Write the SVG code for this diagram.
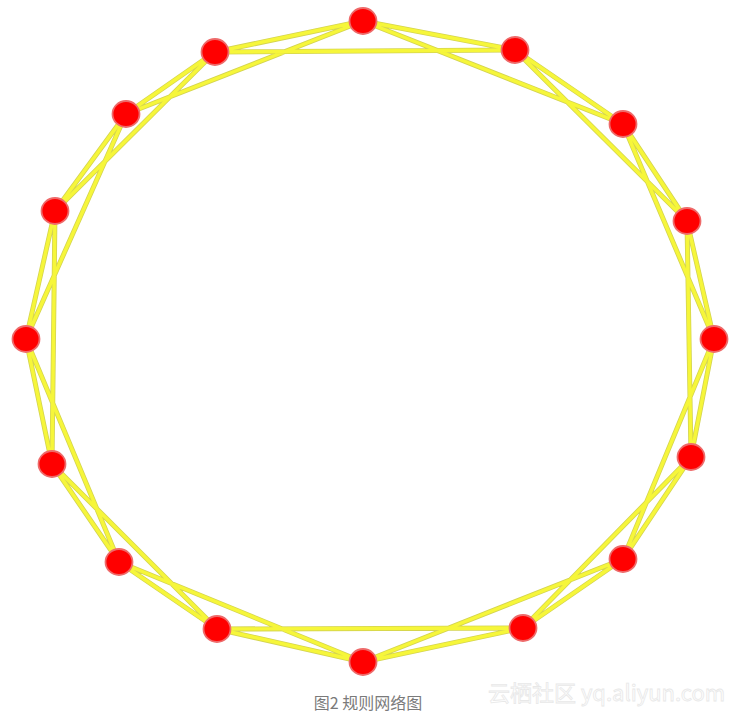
<svg xmlns="http://www.w3.org/2000/svg" xmlns:xlink="http://www.w3.org/1999/xlink" width="740" height="717" viewBox="0 0 740 717">
<style>
.edge-under{fill:none;stroke:#d4d450;stroke-width:5;stroke-linecap:round}
.edge-top{fill:none;stroke:#f6f63a;stroke-width:3.4;stroke-linecap:round}
.node{fill:#ff0000;stroke:#ee6a6a;stroke-width:1.8}
.caption{font-family:"Noto Sans CJK SC","Liberation Sans",sans-serif;font-size:16px;fill:#7a7a7a}
.wm{font-family:"Noto Sans CJK SC","Liberation Sans",sans-serif;font-size:22px;fill:#ffffff;stroke:#e8e8e8;stroke-width:0.8}
</style>
<defs>
<path id="edges" d="M363 21L515 50M515 50L623 124M623 124L687 221M687 221L714 339M714 339L691 457M691 457L623 559M623 559L523 628M523 628L363 662M363 662L217 629M217 629L119 562M119 562L52 464M52 464L26 339M26 339L55 211M55 211L126 114M126 114L215 52M215 52L363 21M363 21L623 124M515 50L687 221M623 124L714 339M687 221L691 457M714 339L623 559M691 457L523 628M623 559L363 662M523 628L217 629M363 662L119 562M217 629L52 464M119 562L26 339M52 464L55 211M26 339L126 114M55 211L215 52M126 114L363 21M215 52L515 50"/>
</defs>
<rect width="740" height="717" fill="#ffffff"/>
<g id="connectors">
<use xlink:href="#edges" href="#edges" class="edge-under"/>
<use xlink:href="#edges" href="#edges" class="edge-top"/>
</g>
<g id="n0"><ellipse class="node" cx="363" cy="21" rx="13.5" ry="13"/></g>
<g id="n1"><ellipse class="node" cx="515" cy="50" rx="13.5" ry="13"/></g>
<g id="n2"><ellipse class="node" cx="623" cy="124" rx="13.5" ry="13"/></g>
<g id="n3"><ellipse class="node" cx="687" cy="221" rx="13.5" ry="13"/></g>
<g id="n4"><ellipse class="node" cx="714" cy="339" rx="13.5" ry="13"/></g>
<g id="n5"><ellipse class="node" cx="691" cy="457" rx="13.5" ry="13"/></g>
<g id="n6"><ellipse class="node" cx="623" cy="559" rx="13.5" ry="13"/></g>
<g id="n7"><ellipse class="node" cx="523" cy="628" rx="13.5" ry="13"/></g>
<g id="n8"><ellipse class="node" cx="363" cy="662" rx="13.5" ry="13"/></g>
<g id="n9"><ellipse class="node" cx="217" cy="629" rx="13.5" ry="13"/></g>
<g id="n10"><ellipse class="node" cx="119" cy="562" rx="13.5" ry="13"/></g>
<g id="n11"><ellipse class="node" cx="52" cy="464" rx="13.5" ry="13"/></g>
<g id="n12"><ellipse class="node" cx="26" cy="339" rx="13.5" ry="13"/></g>
<g id="n13"><ellipse class="node" cx="55" cy="211" rx="13.5" ry="13"/></g>
<g id="n14"><ellipse class="node" cx="126" cy="114" rx="13.5" ry="13"/></g>
<g id="n15"><ellipse class="node" cx="215" cy="52" rx="13.5" ry="13"/></g>
<text class="caption" x="368" y="709" text-anchor="middle">图2 规则网络图</text>
<text class="wm" x="488" y="701">云栖社区 yq.aliyun.com</text>
</svg>
